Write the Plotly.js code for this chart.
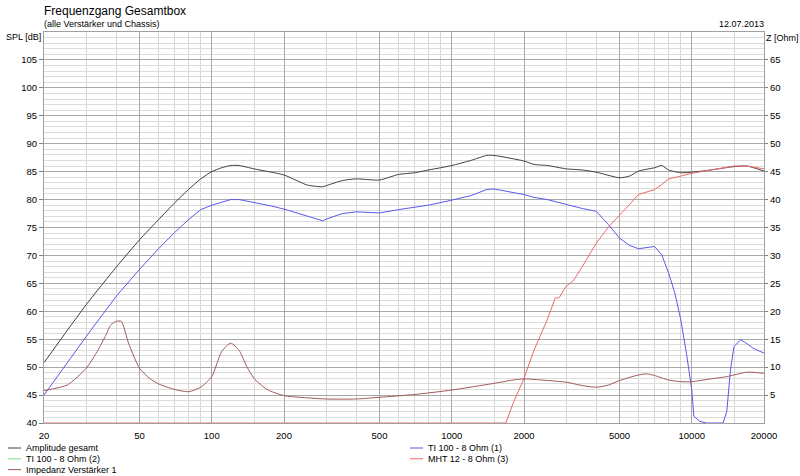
<!DOCTYPE html>
<html>
<head>
<meta charset="utf-8">
<script src="https://cdn.plot.ly/plotly-3.0.1.min.js"></script>
<style>
  html, body { margin: 0; padding: 0; background: #fff; }
  #chart { width: 800px; height: 476px; }
</style>
</head>
<body>
<div id="chart"></div>
<script>
// Amplitude gesamt (SPL dB)
const ampFreq = [20, 30, 40, 50, 60, 70, 80, 90, 100, 110, 120, 130, 150, 200, 250, 290, 300, 350, 400, 500,
  600, 700, 800, 900, 1000, 1200, 1400, 1500, 2000, 2200, 2500, 3000, 3500, 4000, 5000, 5500, 6000, 7000,
  7500, 8000, 9000, 10000, 12000, 15000, 17000, 20000];
const ampSpl = [50.8, 61.2, 67.9, 72.8, 76.4, 79.4, 81.8, 83.7, 85.0, 85.7, 86.1, 86.1, 85.5, 84.4, 82.6, 82.3, 82.5, 83.4, 83.7, 83.5,
  84.5, 84.8, 85.3, 85.7, 86.1, 87.0, 87.9, 87.9, 86.9, 86.3, 86.1, 85.5, 85.3, 84.9, 83.9, 84.2, 85.1, 85.7,
  86.1, 85.3, 84.8, 84.9, 85.3, 85.9, 86.0, 85.1];

// TI 100 - 8 Ohm (1)
const ti1Freq = [20, 30, 40, 50, 60, 70, 80, 90, 100, 120, 130, 150, 175, 200, 250, 290, 300, 350, 400, 500,
  600, 700, 800, 1000, 1200, 1400, 1500, 2000, 2200, 2500, 3000, 3500, 4000, 4500, 5000, 5500, 6000, 6500,
  7000, 7500, 8000, 8500, 9000, 9500, 10000, 10200, 10800, 11500, 13500, 14000, 14500, 15000, 16000, 17000, 18000, 20000];
const ti1Spl = [45.0, 55.5, 62.7, 67.5, 71.2, 74.1, 76.4, 78.2, 79.0, 80.0, 80.0, 79.5, 78.9, 78.3, 77.1, 76.2, 76.5, 77.5, 77.8, 77.6,
  78.2, 78.7, 79.0, 79.9, 80.7, 81.8, 81.9, 80.9, 80.4, 80.0, 79.1, 78.4, 77.9, 75.5, 73.1, 71.8, 71.2, 71.4,
  71.6, 70.1, 66.9, 63.3, 58.5, 52.5, 46.0, 41.2, 40.3, 40.0, 40.0, 42.1, 49.5, 53.7, 54.9, 54.2, 53.4, 52.5];

// TI 100 - 8 Ohm (2): no visible curve
const ti2Freq = [];
const ti2Spl = [];

// MHT 12 - 8 Ohm (3)
const mhtFreq = [20, 1680, 1800, 2000, 2200, 2500, 2700, 2800, 3000, 3200, 3500, 4000, 4500, 5000, 5500, 6000,
  6500, 7000, 7500, 8000, 9000, 10000, 12000, 15000, 17000, 20000];
const mhtSpl = [40, 40, 43.5, 48.0, 53.0, 58.5, 62.4, 62.4, 64.5, 65.4, 68.0, 72.2, 75.1, 77.3, 79.1, 80.9,
  81.3, 81.8, 82.7, 83.7, 84.2, 84.7, 85.3, 86.0, 86.0, 85.5];

// Impedanz Verstärker 1 (Ohm, right axis)
const impFreq = [20, 25, 30, 33, 36, 38, 40, 42, 45, 50, 55, 60, 70, 80, 90, 100, 110, 120, 130, 140, 150, 170, 200,
  300, 400, 500, 700, 1000, 1500, 1800, 2000, 2200, 3000, 3500, 4000, 4500, 5000, 6000, 6500, 7000, 8000,
  9000, 10000, 12000, 14000, 15000, 17000, 20000];
const impOhm = [5.8, 6.8, 9.8, 12.5, 15.5, 17.6, 18.2, 18.2, 14.3, 9.8, 8.0, 7.0, 6.0, 5.6, 6.4, 8.3, 12.8, 14.3, 13.0, 10.1, 8.0, 6.0, 4.9,
  4.3, 4.3, 4.6, 5.1, 5.9, 7.1, 7.7, 7.9, 7.8, 7.3, 6.7, 6.4, 6.8, 7.6, 8.6, 8.8, 8.5, 7.7,
  7.4, 7.4, 7.9, 8.3, 8.6, 9.1, 8.9];

const majorFreqTicks = [20, 50, 100, 200, 500, 1000, 2000, 5000, 10000, 20000];
const minorFreqTicks = [30, 40, 60, 70, 80, 90, 150, 300, 400, 600, 700, 800, 900, 1500,
  3000, 4000, 6000, 7000, 8000, 9000, 15000];
const splTicks = [40, 45, 50, 55, 60, 65, 70, 75, 80, 85, 90, 95, 100, 105];
const ohmTicks = [5, 10, 15, 20, 25, 30, 35, 40, 45, 50, 55, 60, 65];

const series = [
  { name: 'Amplitude gesamt', x: ampFreq, y: ampSpl, color: '#404040', axis: 'y', smooth: true },
  { name: 'TI 100 - 8 Ohm (2)', x: ti2Freq, y: ti2Spl, color: '#80e080', axis: 'y', smooth: false },
  { name: 'Impedanz Verstärker 1', x: impFreq, y: impOhm, color: '#a05a5a', axis: 'y2', smooth: true },
  { name: 'TI 100 - 8 Ohm (1)', x: ti1Freq, y: ti1Spl, color: '#5a5aee', axis: 'y', smooth: false },
  { name: 'MHT 12 - 8 Ohm (3)', x: mhtFreq, y: mhtSpl, color: '#ee6a6a', axis: 'y', smooth: false },
];

// plot area in pixels: x 44..764, y 32..423
const L = 44, R = 764, T = 32, B = 423;
const px = x => (x - L) / (R - L);
const py = y => (B - y) / (B - T);

const font = '"Liberation Sans", Arial, sans-serif';

const data = series.map(s => ({
  x: s.x,
  y: s.y,
  yaxis: s.axis,
  type: 'scatter',
  mode: 'lines',
  name: s.name,
  line: s.smooth
    ? { color: s.color, width: 1, shape: 'spline', smoothing: 0.6 }
    : { color: s.color, width: 1 },
  hoverinfo: 'skip',
}));

// hand made legend, two columns
const shapes = [];
const annotations = [];
series.forEach((s, i) => {
  const col = i < 3 ? 0 : 1;
  const row = i < 3 ? i : i - 3;
  const x0 = col === 0 ? 8 : 410;
  const yy = 448 + row * 10.8;
  shapes.push({
    type: 'line', xref: 'paper', yref: 'paper',
    x0: px(x0), x1: px(x0 + 13), y0: py(yy), y1: py(yy),
    line: { color: s.color, width: 1 },
  });
  annotations.push({
    xref: 'paper', yref: 'paper', x: px(x0 + 16), y: py(yy),
    xanchor: 'left', yanchor: 'middle', showarrow: false,
    text: s.name, font: { family: font, size: 9, color: '#000' },
  });
});

const addText = (text, x, y, anchor, size) => annotations.push({
  xref: 'paper', yref: 'paper', x: px(x), y: py(y),
  xanchor: anchor, yanchor: 'middle', showarrow: false,
  text: text, font: { family: font, size: size, color: '#000' },
});
addText('Frequenzgang Gesamtbox', 42, 11, 'left', 12);
addText('(alle Verstärker und Chassis)', 42, 24, 'left', 9);
addText('12.07.2013', 766, 24, 'right', 9);
addText('SPL [dB]', 43, 37, 'right', 9);
addText('Z [Ohm]', 764, 38, 'left', 9);

const layout = {
  width: 800,
  height: 476,
  margin: { l: L, r: 800 - R, t: T, b: 476 - B, pad: 0 },
  paper_bgcolor: '#fff',
  plot_bgcolor: '#fff',
  showlegend: false,
  font: { family: font, size: 9, color: '#000' },
  xaxis: {
    type: 'log',
    range: [Math.log10(20), Math.log10(20000)],
    tickmode: 'array',
    tickvals: majorFreqTicks,
    ticktext: majorFreqTicks.map(String),
    ticks: '',
    ticklabelstandoff: 4,
    showgrid: true,
    gridcolor: '#a8a8a8',
    gridwidth: 1,
    minor: { tickmode: 'array', tickvals: minorFreqTicks, showgrid: true, gridcolor: '#d6d6d6', ticks: '' },
    showline: true,
    mirror: true,
    linecolor: '#a0a0a0',
    zeroline: false,
    tickfont: { family: font, size: 9.5, color: '#000' },
  },
  yaxis: {
    range: [40, 110],
    tickmode: 'array',
    tickvals: splTicks,
    ticks: 'outside',
    ticklen: 4,
    tickcolor: '#808080',
    showgrid: true,
    gridcolor: '#a8a8a8',
    minor: { dtick: 1, showgrid: true, gridcolor: '#dcdcdc', ticks: '' },
    showline: true,
    mirror: true,
    linecolor: '#a0a0a0',
    zeroline: false,
    tickfont: { family: font, size: 9.5, color: '#000' },
  },
  yaxis2: {
    range: [0, 70],
    overlaying: 'y',
    side: 'right',
    tickmode: 'array',
    tickvals: ohmTicks,
    ticks: 'outside',
    ticklen: 3,
    tickcolor: '#808080',
    showgrid: false,
    zeroline: false,
    tickfont: { family: font, size: 9.5, color: '#000' },
  },
  shapes: shapes,
  annotations: annotations,
};

Plotly.newPlot('chart', data, layout, { staticPlot: true, displayModeBar: false });
</script>
</body>
</html>
